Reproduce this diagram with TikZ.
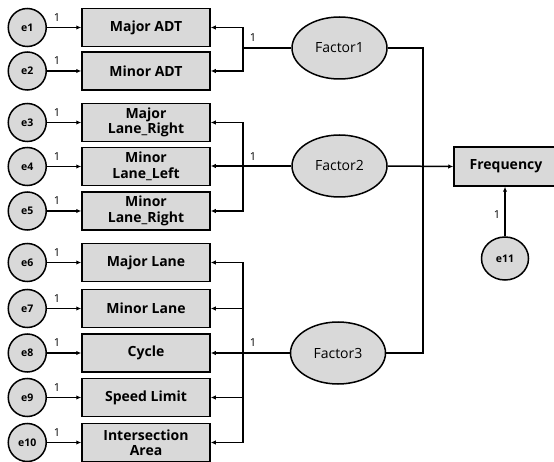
\documentclass[tikz,border=0pt]{standalone}
\usepackage{fontspec}
\setmainfont{Open Sans}
\usetikzlibrary{arrows.meta,shapes.geometric}
\definecolor{boxgray}{HTML}{D9D9D9}
\begin{document}
\begin{tikzpicture}[x=1pt,y=-1pt, line width=1.5pt,
  obsbox/.style={draw, fill=boxgray, minimum width=128pt, minimum height=38pt,
    inner sep=1pt, align=center, font=\bfseries\fontsize{14}{15.5}\selectfont},
  errc/.style={draw, circle, fill=boxgray, minimum size=38pt, inner sep=0pt,
    font=\bfseries\fontsize{10.5}{12}\selectfont},
  latent/.style={draw, ellipse, fill=boxgray, minimum width=95pt, minimum height=62pt,
    inner sep=0pt, font=\fontsize{14}{16}\selectfont},
  arr/.style={-{Latex[length=5pt,width=4.5pt]}},
  wlabel/.style={font=\fontsize{11}{12}\selectfont, inner sep=0pt}
]
\useasboundingbox (0,0) rectangle (554,462);
\clip (0,0) rectangle (554,462);

% observed indicators
\node[obsbox] (b1)  at (146,27.5)  {Major ADT};
\node[obsbox] (b2)  at (146,71)    {Minor ADT};
\node[obsbox] (b3)  at (146,122.5) {Major\\Lane\_Right};
\node[obsbox] (b4)  at (146,166.5) {Minor\\Lane\_Left};
\node[obsbox] (b5)  at (146,211)   {Minor\\Lane\_Right};
\node[obsbox] (b6)  at (146,262.5) {Major Lane};
\node[obsbox] (b7)  at (146,308.5) {Minor Lane};
\node[obsbox] (b8)  at (146,353)   {Cycle};
\node[obsbox] (b9)  at (146,397.5) {Speed Limit};
\node[obsbox] (b10) at (146,442.5) {Intersection\\Area};

% error terms
\foreach \i in {1,...,10} {
  \path (b\i.west) ++(-54,0) node[errc] (e\i) {e\i};
  \draw[arr] (e\i) -- (b\i);
  \path (e\i.east) ++(10,-10) node[wlabel] (w\i) {1};
}

% latent factors
\node[latent] (f1) at (339.5,48)  {Factor1};
\node[latent] (f2) at (339.5,166) {Factor2};
\node[latent] (f3) at (338,353)   {Factor3};

% outcome
\node[draw, fill=boxgray, minimum width=104pt, minimum height=39pt, inner sep=0pt,
  font=\bfseries\fontsize{14}{16}\selectfont] (fr) at (506,166.5) {Frequency};
\node[errc, minimum width=47pt, minimum height=43pt, ellipse] (e11) at (505,258.5) {e11};
\draw[arr] (e11) -- (e11 |- fr.south);
\node[wlabel] (w11) at (497,215) {1};

% loadings
\coordinate (j1) at (243,48);
\coordinate (j2) at (243,166);
\coordinate (j3) at (243,353);
\draw (f1.west) -- (j1);
\draw[arr] (j1) |- (b1.east);
\draw[arr] (j1) |- (b2.east);
\node[wlabel] (l1) at (253,38) {1};

\draw[arr] (f2.west) -- (b4.east |- f2.west);
\draw[arr] (j2) |- (b3.east);
\draw[arr] (j2) |- (b5.east);
\node[wlabel] (l2) at (253,157) {1};

\draw[arr] (f3.west) -- (b8.east);
\draw[arr] (j3) |- (b6.east);
\draw[arr] (j3) |- (b7.east);
\draw[arr] (j3) |- (b9.east);
\draw[arr] (j3) |- (b10.east);
\node[wlabel] (l3) at (253,343) {1};

% structural paths
\coordinate (k1) at (423,48);
\draw (f1.east) -- (k1) |- (f3.east);
\draw[arr] (f2.east) -- (fr.west);
\end{tikzpicture}
\end{document}
